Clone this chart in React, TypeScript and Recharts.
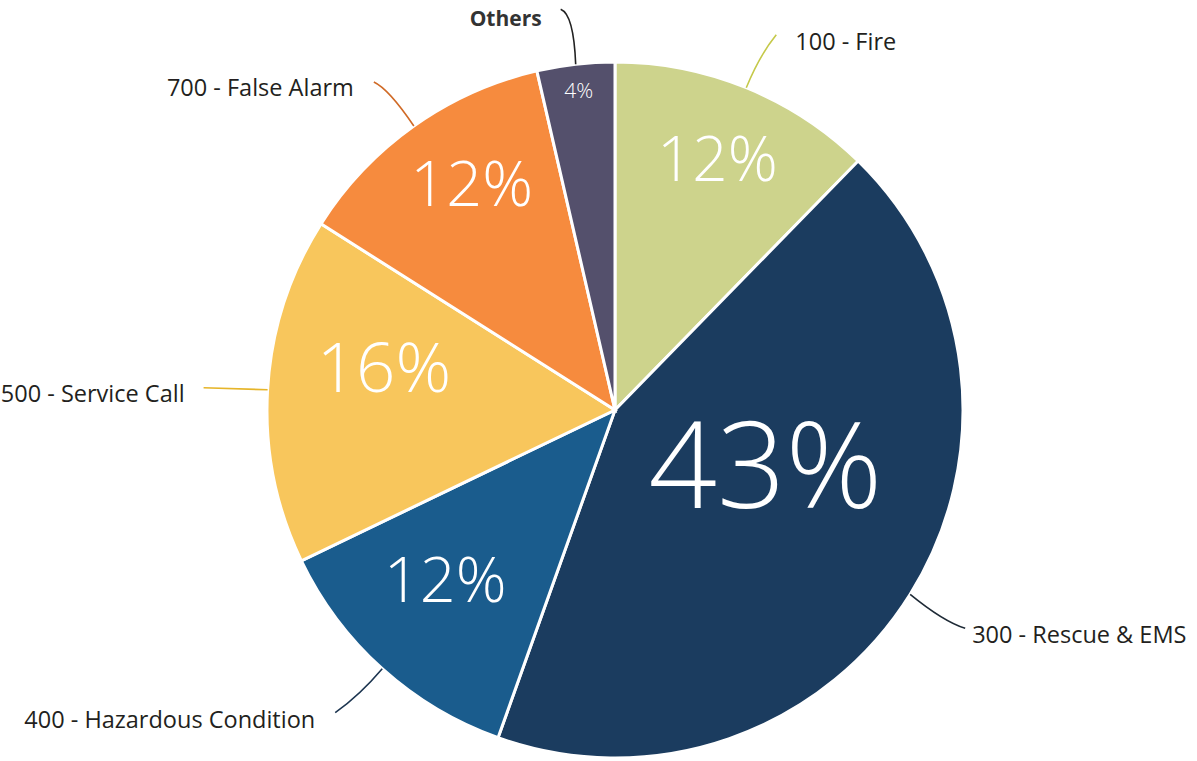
import React from "react";
import { PieChart, Pie, Cell } from "recharts";

const categories = [
	"100 - Fire",
	"300 - Rescue & EMS",
	"400 - Hazardous Condition",
	"500 - Service Call",
	"700 - False Alarm",
	"Others"
];
const shares = [12.3, 43.1, 12.4, 16.1, 12.4, 3.6];
const percentLabels = ["12%", "43%", "12%", "16%", "12%", "4%"];

const colors = ["#cdd38c", "#1b3c5f", "#1a5c8d", "#f8c65c", "#f68b3e", "#54506c"];
const leaderColors = ["#c5c94a", "#1e2a36", "#1c3550", "#e6b52a", "#d06a26", "#222222"];

// inner percent text: radius fraction, angle shift (deg, clockwise), font size
const innerStyle = [
	{ r: 0.78, shift: 0, size: 62 },
	{ r: 0.46, shift: -12, size: 120 },
	{ r: 0.69, shift: 3, size: 63 },
	{ r: 0.675, shift: 7, size: 69 },
	{ r: 0.77, shift: 3, size: 63 },
	{ r: 0.925, shift: 0, size: 21 }
];

// callout leader: control / end offsets from the slice edge, text offset from end
const callouts = [
	{ ctrl: [13, -32], end: [30, -53], text: [19, 15], anchor: "start" },
	{ ctrl: [33, 27], end: [55, 34], text: [7, 15], anchor: "start" },
	{ ctrl: [-22, 26], end: [-47, 44], text: [-20, 15], anchor: "end" },
	{ ctrl: [-32, -1], end: [-64, -2], text: [-19, 14], anchor: "end" },
	{ ctrl: [-25, -37], end: [-40, -44], text: [-20, 14], anchor: "end" },
	{ ctrl: [-2, -50], end: [-15, -55], text: [-19, 17], anchor: "end" }
];

const data = categories.map((name, i) => ({ name, value: shares[i] }));

const RAD = Math.PI / 180;
const font = "'Open Sans', sans-serif";

function renderLabel(props: any) {
	const { cx, cy, midAngle, outerRadius, index } = props;
	const st = innerStyle[index];
	const co = callouts[index];

	const a = (midAngle - st.shift) * RAD;
	const r = outerRadius * st.r;
	const ix = cx + r * Math.cos(a);
	const iy = cy - r * Math.sin(a);

	const m = midAngle * RAD;
	const px = cx + outerRadius * Math.cos(m);
	const py = cy - outerRadius * Math.sin(m);
	const ex = px + co.end[0];
	const ey = py + co.end[1];
	const path = `M${px},${py} Q${px + co.ctrl[0]},${py + co.ctrl[1]} ${ex},${ey}`;
	const isOther = index === categories.length - 1;

	return (
		<g>
			<text
				x={ix}
				y={iy + st.size * 0.357}
				textAnchor="middle"
				fill="#ffffff"
				fontFamily={font}
				fontWeight={300}
				fontSize={st.size}
			>
				{percentLabels[index]}
			</text>
			<path d={path} fill="none" stroke={leaderColors[index]} strokeWidth={1.6} />
			<text
				x={ex + co.text[0]}
				y={ey + co.text[1]}
				textAnchor={co.anchor as any}
				fill={isOther ? "#333333" : "#231f20"}
				fontFamily={font}
				fontWeight={isOther ? 700 : 400}
				fontSize={isOther ? 21 : 23.5}
			>
				{categories[index]}
			</text>
		</g>
	);
}

function App() {
	return (
		<div style={{ position: "absolute", left: 0, top: 0, background: "#ffffff" }}>
			<PieChart width={1197} height={761} margin={{ top: 0, right: 0, bottom: 0, left: 0 }}>
				<Pie
					data={data}
					dataKey="value"
					nameKey="name"
					cx={615}
					cy={410}
					outerRadius={348}
					startAngle={90}
					endAngle={-270}
					stroke="#ffffff"
					strokeWidth={3}
					label={renderLabel}
					labelLine={false}
					isAnimationActive={false}
				>
					{data.map((d, i) => (
						<Cell key={d.name} fill={colors[i]} />
					))}
				</Pie>
			</PieChart>
		</div>
	);
}

export default App;
